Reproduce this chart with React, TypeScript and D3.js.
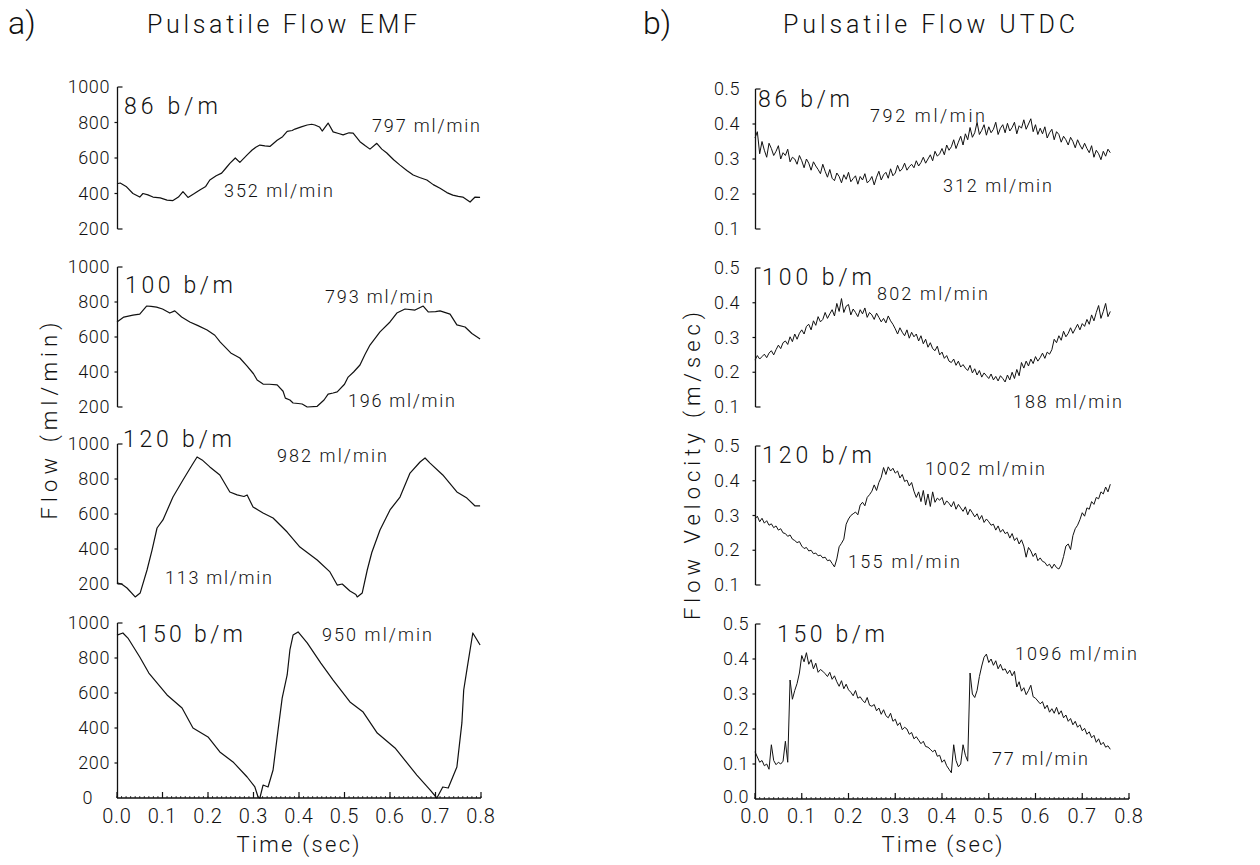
import React from "react";
import * as d3 from "d3";

type Pt = [number, number];

// ---------- tick values ----------
const TIME_TICKS = [0, 0.1, 0.2, 0.3, 0.4, 0.5, 0.6, 0.7, 0.8];
const EMF_TICKS = [200, 400, 600, 800, 1000];
const EMF_TICKS_BOTTOM = [0, 200, 400, 600, 800, 1000];
const VEL_TICKS = [0.1, 0.2, 0.3, 0.4, 0.5];
const VEL_TICKS_BOTTOM = [0, 0.1, 0.2, 0.3, 0.4, 0.5];

// ---------- EMF flow (ml/min) vs time (s) ----------
const EMF_86: Pt[] = [[0,455],[0.007,459],[0.02,440],[0.035,400],[0.05,380],[0.057,400],[0.068,392],[0.079,380],[0.095,375],[0.11,363],[0.123,360],[0.135,380],[0.145,410],[0.156,378],[0.17,400],[0.182,420],[0.195,440],[0.204,476],[0.218,500],[0.23,515],[0.24,545],[0.248,570],[0.26,600],[0.27,575],[0.285,615],[0.297,645],[0.305,660],[0.314,673],[0.325,668],[0.336,665],[0.352,700],[0.364,720],[0.374,750],[0.385,755],[0.391,763],[0.405,775],[0.418,786],[0.428,790],[0.435,786],[0.445,775],[0.451,752],[0.464,797],[0.475,747],[0.487,738],[0.497,730],[0.51,742],[0.519,740],[0.534,692],[0.545,670],[0.556,650],[0.571,683],[0.582,650],[0.593,628],[0.608,590],[0.622,560],[0.637,530],[0.651,504],[0.665,490],[0.681,476],[0.695,450],[0.71,430],[0.725,405],[0.738,391],[0.75,384],[0.76,380],[0.776,352],[0.787,380],[0.798,378]];
const EMF_100: Pt[] = [[0,686],[0.015,714],[0.035,725],[0.05,731],[0.065,777],[0.075,775],[0.087,771],[0.1,760],[0.116,737],[0.127,749],[0.142,714],[0.16,686],[0.178,665],[0.198,640],[0.215,610],[0.227,571],[0.25,509],[0.27,480],[0.286,434],[0.3,390],[0.308,354],[0.321,331],[0.335,330],[0.352,326],[0.365,290],[0.37,251],[0.38,240],[0.387,223],[0.398,220],[0.407,217],[0.418,200],[0.44,204],[0.455,240],[0.464,274],[0.475,280],[0.484,286],[0.5,330],[0.508,371],[0.52,400],[0.534,440],[0.545,500],[0.556,554],[0.578,629],[0.6,686],[0.615,737],[0.633,760],[0.655,754],[0.673,777],[0.684,743],[0.7,745],[0.71,749],[0.732,731],[0.747,669],[0.765,657],[0.78,620],[0.798,589]];
const EMF_120: Pt[] = [[0,206],[0.01,200],[0.022,177],[0.04,126],[0.051,149],[0.066,280],[0.077,394],[0.088,520],[0.101,566],[0.123,697],[0.145,794],[0.165,880],[0.176,926],[0.187,909],[0.204,869],[0.226,823],[0.248,726],[0.264,709],[0.279,700],[0.286,709],[0.299,640],[0.321,606],[0.343,577],[0.374,497],[0.402,411],[0.44,337],[0.468,269],[0.484,194],[0.495,200],[0.512,160],[0.525,140],[0.528,126],[0.539,149],[0.55,280],[0.56,380],[0.578,509],[0.6,623],[0.622,697],[0.644,834],[0.666,897],[0.677,920],[0.688,891],[0.716,823],[0.747,726],[0.769,691],[0.787,646],[0.798,646]];
const EMF_150: Pt[] = [[0,931],[0.013,943],[0.024,914],[0.05,806],[0.07,714],[0.11,589],[0.143,514],[0.167,400],[0.2,349],[0.226,263],[0.255,206],[0.286,120],[0.303,63],[0.31,6],[0.314,0],[0.321,74],[0.332,63],[0.343,160],[0.354,389],[0.363,571],[0.374,703],[0.38,846],[0.387,931],[0.398,949],[0.418,886],[0.448,771],[0.475,674],[0.512,549],[0.541,491],[0.572,371],[0.611,286],[0.659,131],[0.688,46],[0.703,0],[0.716,63],[0.728,57],[0.747,177],[0.758,429],[0.762,617],[0.77,749],[0.782,943],[0.798,874]];

// ---------- UTDC flow velocity (m/s), sampled every 0.005 s ----------
const UTDC_DT = 0.005;
const UTDC_86 = [
0.36,0.378,0.315,0.35,0.325,0.305,0.345,0.33,0.31,0.322,
0.338,0.3,0.318,0.31,0.328,0.292,0.305,0.3,0.285,0.31,
0.295,0.275,0.3,0.288,0.268,0.292,0.28,0.27,0.258,0.285,
0.265,0.248,0.27,0.245,0.238,0.26,0.25,0.232,0.255,0.242,
0.262,0.235,0.244,0.252,0.228,0.25,0.24,0.258,0.232,0.238,
0.25,0.226,0.248,0.265,0.24,0.255,0.262,0.245,0.272,0.252,
0.26,0.282,0.265,0.272,0.288,0.268,0.278,0.285,0.275,0.295,
0.28,0.29,0.305,0.288,0.3,0.312,0.295,0.322,0.308,0.315,
0.33,0.312,0.34,0.325,0.335,0.355,0.33,0.348,0.365,0.34,
0.372,0.355,0.39,0.362,0.375,0.405,0.37,0.382,0.398,0.368,
0.392,0.375,0.385,0.405,0.37,0.388,0.398,0.375,0.402,0.38,
0.39,0.405,0.372,0.395,0.388,0.412,0.385,0.4,0.415,0.378,
0.398,0.37,0.388,0.372,0.392,0.36,0.375,0.385,0.355,0.378,
0.37,0.348,0.365,0.355,0.34,0.362,0.35,0.332,0.355,0.34,
0.328,0.345,0.33,0.318,0.338,0.305,0.325,0.315,0.298,0.322,
0.308,0.328,0.318];
const UTDC_100 = [
0.235,0.248,0.238,0.245,0.252,0.242,0.255,0.262,0.25,0.265,
0.278,0.268,0.285,0.29,0.28,0.302,0.288,0.31,0.295,0.312,
0.322,0.31,0.332,0.338,0.322,0.348,0.335,0.36,0.345,0.352,
0.372,0.355,0.368,0.38,0.362,0.398,0.375,0.412,0.372,0.39,
0.395,0.365,0.382,0.372,0.36,0.38,0.368,0.385,0.358,0.372,
0.365,0.352,0.37,0.358,0.345,0.355,0.342,0.362,0.348,0.338,
0.325,0.31,0.328,0.315,0.305,0.322,0.298,0.315,0.302,0.31,
0.29,0.305,0.282,0.295,0.272,0.285,0.268,0.262,0.275,0.25,
0.258,0.24,0.248,0.232,0.228,0.238,0.22,0.232,0.215,0.222,
0.212,0.205,0.22,0.198,0.21,0.192,0.205,0.186,0.198,0.19,
0.182,0.195,0.178,0.188,0.175,0.19,0.182,0.172,0.192,0.178,
0.2,0.182,0.208,0.19,0.228,0.212,0.232,0.218,0.238,0.225,
0.245,0.232,0.242,0.255,0.24,0.258,0.252,0.265,0.295,0.285,
0.305,0.292,0.318,0.302,0.312,0.328,0.312,0.325,0.338,0.322,
0.34,0.332,0.352,0.338,0.365,0.348,0.372,0.392,0.355,0.375,
0.398,0.36,0.375];
const UTDC_120 = [
0.29,0.298,0.282,0.292,0.278,0.285,0.272,0.276,0.265,0.27,
0.258,0.262,0.25,0.248,0.24,0.244,0.232,0.228,0.222,0.225,
0.212,0.205,0.208,0.198,0.2,0.19,0.192,0.184,0.186,0.178,
0.18,0.17,0.172,0.162,0.152,0.175,0.21,0.22,0.232,0.275,
0.29,0.3,0.305,0.31,0.302,0.33,0.338,0.328,0.352,0.36,
0.37,0.388,0.372,0.395,0.41,0.438,0.418,0.44,0.428,0.436,
0.422,0.428,0.408,0.418,0.398,0.402,0.385,0.395,0.37,0.352,
0.368,0.34,0.372,0.33,0.362,0.326,0.368,0.338,0.35,0.344,
0.352,0.33,0.342,0.335,0.325,0.34,0.318,0.332,0.322,0.312,
0.325,0.302,0.318,0.308,0.296,0.305,0.288,0.3,0.28,0.29,
0.282,0.272,0.275,0.258,0.27,0.252,0.26,0.248,0.252,0.235,
0.248,0.228,0.236,0.218,0.23,0.212,0.18,0.208,0.198,0.182,
0.192,0.17,0.178,0.168,0.165,0.155,0.16,0.148,0.16,0.15,
0.146,0.158,0.182,0.212,0.218,0.202,0.242,0.262,0.272,0.288,
0.308,0.298,0.322,0.318,0.34,0.332,0.352,0.348,0.368,0.362,
0.382,0.368,0.39];
const UTDC_150 = [
0.135,0.12,0.105,0.11,0.095,0.1,0.085,0.155,0.11,0.098,
0.105,0.1,0.108,0.165,0.105,0.34,0.285,0.31,0.33,0.36,
0.41,0.392,0.418,0.385,0.398,0.372,0.388,0.362,0.37,0.365,
0.358,0.35,0.362,0.342,0.352,0.335,0.322,0.338,0.315,0.328,
0.312,0.305,0.295,0.31,0.288,0.292,0.282,0.275,0.29,0.268,
0.265,0.27,0.252,0.26,0.242,0.255,0.238,0.232,0.245,0.222,
0.228,0.21,0.218,0.198,0.205,0.2,0.185,0.19,0.172,0.178,
0.168,0.158,0.165,0.15,0.148,0.142,0.135,0.14,0.122,0.125,
0.105,0.112,0.095,0.085,0.075,0.155,0.11,0.092,0.1,0.155,
0.125,0.108,0.36,0.3,0.29,0.31,0.35,0.38,0.405,0.414,
0.39,0.4,0.382,0.395,0.372,0.385,0.368,0.372,0.358,0.368,
0.352,0.365,0.32,0.335,0.308,0.318,0.298,0.31,0.325,0.292,
0.288,0.28,0.272,0.278,0.258,0.268,0.248,0.258,0.245,0.262,
0.242,0.252,0.232,0.24,0.222,0.23,0.212,0.222,0.205,0.212,
0.195,0.202,0.185,0.192,0.175,0.182,0.162,0.172,0.155,0.162,
0.148,0.152,0.142];

const toPts = (vals: number[]): Pt[] => vals.map((v, i) => [i * UTDC_DT, v]);

// ---------- layout ----------
const FONT = "Roboto, 'Liberation Sans', sans-serif";
const FW = 300;
const INK = "#111";

type Label = { text: string; x: number; y: number; w: number; size: number };
type Panel = {
  data: Pt[];
  domain: [number, number];
  range: [number, number];
  ticks: number[];
  bottom: boolean;
  labels: Label[];
};

const LEFT_X: [number, number] = [117, 481];
const RIGHT_X: [number, number] = [755, 1129];

const leftPanels: Panel[] = [
  { data: EMF_86, domain: [200, 1000], range: [229, 87], ticks: EMF_TICKS, bottom: false,
    labels: [
      { text: "86 b/m", x: 124, y: 114, w: 94, size: 23 },
      { text: "797 ml/min", x: 372, y: 132, w: 108, size: 18 },
      { text: "352 ml/min", x: 224, y: 197, w: 109, size: 18 },
    ] },
  { data: EMF_100, domain: [200, 1000], range: [407, 267], ticks: EMF_TICKS, bottom: false,
    labels: [
      { text: "100 b/m", x: 125, y: 293, w: 108, size: 23 },
      { text: "793 ml/min", x: 325, y: 303, w: 108, size: 18 },
      { text: "196 ml/min", x: 348, y: 407, w: 107, size: 18 },
    ] },
  { data: EMF_120, domain: [200, 1000], range: [584, 444], ticks: EMF_TICKS, bottom: false,
    labels: [
      { text: "120 b/m", x: 123, y: 447, w: 109, size: 23 },
      { text: "982 ml/min", x: 277, y: 462, w: 110, size: 18 },
      { text: "113 ml/min", x: 165, y: 584, w: 107, size: 18 },
    ] },
  { data: EMF_150, domain: [0, 1000], range: [798, 623], ticks: EMF_TICKS_BOTTOM, bottom: true,
    labels: [
      { text: "150 b/m", x: 137, y: 642, w: 106, size: 23 },
      { text: "950 ml/min", x: 322, y: 641, w: 110, size: 18 },
    ] },
];

const rightPanels: Panel[] = [
  { data: toPts(UTDC_86), domain: [0.1, 0.5], range: [229, 89], ticks: VEL_TICKS, bottom: false,
    labels: [
      { text: "86 b/m", x: 758, y: 107, w: 92, size: 23 },
      { text: "792 ml/min", x: 870, y: 122, w: 115, size: 18 },
      { text: "312 ml/min", x: 943, y: 192, w: 109, size: 18 },
    ] },
  { data: toPts(UTDC_100), domain: [0.1, 0.5], range: [407, 268], ticks: VEL_TICKS, bottom: false,
    labels: [
      { text: "100 b/m", x: 762, y: 285, w: 110, size: 23 },
      { text: "802 ml/min", x: 877, y: 300, w: 111, size: 18 },
      { text: "188 ml/min", x: 1013, y: 408, w: 109, size: 18 },
    ] },
  { data: toPts(UTDC_120), domain: [0.1, 0.5], range: [585, 446], ticks: VEL_TICKS, bottom: false,
    labels: [
      { text: "120 b/m", x: 762, y: 463, w: 110, size: 23 },
      { text: "1002 ml/min", x: 925, y: 475, w: 120, size: 18 },
      { text: "155 ml/min", x: 848, y: 568, w: 112, size: 18 },
    ] },
  { data: toPts(UTDC_150), domain: [0, 0.5], range: [799, 624], ticks: VEL_TICKS_BOTTOM, bottom: true,
    labels: [
      { text: "150 b/m", x: 777, y: 642, w: 108, size: 23 },
      { text: "1096 ml/min", x: 1015, y: 660, w: 122, size: 18 },
      { text: "77 ml/min", x: 992, y: 765, w: 96, size: 18 },
    ] },
];

function T({ x, y, w, size, children, anchor, rotate }: any) {
  return (
    <text
      x={x}
      y={y}
      fontSize={size}
      fontFamily={FONT}
      fontWeight={FW}
      fill={INK}
      textAnchor={anchor || "start"}
      textLength={w}
      lengthAdjust={w ? "spacing" : undefined}
      transform={rotate ? `rotate(-90 ${x} ${y})` : undefined}
    >
      {children}
    </text>
  );
}

function PanelView({ p, xr, fmt, labelRight, side, lw }: { p: Panel; xr: [number, number]; fmt: (v: number) => string; labelRight: number; side: "L" | "R"; lw: number }) {
  const x = d3.scaleLinear().domain([0, 0.8]).range(xr);
  const y = d3.scaleLinear().domain(p.domain).range(p.range);
  const line = d3.line<Pt>().x((d) => x(d[0])).y((d) => y(d[1]));
  const ax = xr[0] + 0.5;
  const yTop = y(p.domain[1]);
  const yBot = y(p.domain[0]);
  const minor = d3.range(0, 0.8001, 0.01);
  return (
    <g>
      <line x1={ax} x2={ax} y1={yTop} y2={yBot} stroke={INK} strokeWidth={1.3} />
      <line x1={ax} x2={ax + 5} y1={yTop} y2={yTop} stroke={INK} strokeWidth={1.2} />
      {!p.bottom && <line x1={ax} x2={ax + 5} y1={yBot} y2={yBot} stroke={INK} strokeWidth={1.2} />}
      {p.ticks.map((t) => {
        const yy = y(t);
        const isEnd = t === p.domain[0] || t === p.domain[1];
        const zero = p.bottom && t === 0;
        const lx = zero && side === "L" ? labelRight - 17 : labelRight;
        const ly = zero ? yy + (side === "L" ? 6 : 4) : yy + 6;
        return (
          <g key={t}>
            {!isEnd && <line x1={ax - 3} x2={ax} y1={yy} y2={yy} stroke={INK} strokeWidth={1.2} />}
            <text x={lx} y={ly} fontSize={18} fontFamily={FONT} fontWeight={FW} fill={INK} textAnchor="end" letterSpacing={0.6}>
              {fmt(t)}
            </text>
          </g>
        );
      })}
      {p.bottom && (
        <g>
          <line x1={xr[0]} x2={xr[1]} y1={yBot} y2={yBot} stroke={INK} strokeWidth={1.6} />
          {minor.map((m, i) => (
            <line key={"m" + i} x1={x(m)} x2={x(m)} y1={yBot} y2={yBot - 2} stroke={INK} strokeWidth={0.8} />
          ))}
          {TIME_TICKS.map((t) => (
            <g key={"t" + t}>
              <line x1={x(t)} x2={x(t)} y1={yBot} y2={yBot - 6} stroke={INK} strokeWidth={1.2} />
              <text x={x(t)} y={823} fontSize={20} fontFamily={FONT} fontWeight={FW} fill={INK} textAnchor="middle" letterSpacing={0.8}>
                {t.toFixed(1)}
              </text>
            </g>
          ))}
        </g>
      )}
      <path d={line(p.data) || ""} fill="none" stroke={INK} strokeWidth={lw} strokeLinejoin="round" />
      {p.labels.map((l, i) => (
        <T key={i} x={l.x} y={l.y} w={l.w} size={l.size}>
          {l.text}
        </T>
      ))}
    </g>
  );
}

export default function App() {
  return (
    <svg width={1260} height={865} style={{ position: "absolute", left: 0, top: 0, background: "#fff" }}>
      <rect x={0} y={0} width={1260} height={865} fill="#fff" />
      <T x={8} y={34} size={32}>a)</T>
      <T x={643} y={34} size={32}>b)</T>
      <T x={147} y={33} size={25} w={270}>Pulsatile Flow EMF</T>
      <T x={783} y={33} size={25} w={292}>Pulsatile Flow UTDC</T>

      {leftPanels.map((p, i) => (
        <PanelView key={"l" + i} p={p} xr={LEFT_X} fmt={(v) => String(v)} labelRight={110} side="L" lw={1.2} />
      ))}
      {rightPanels.map((p, i) => (
        <PanelView key={"r" + i} p={p} xr={RIGHT_X} fmt={(v) => v.toFixed(1)} labelRight={p.bottom ? 749 : 740} side="R" lw={1.0} />
      ))}

      <T x={57} y={421} size={22} w={197} anchor="middle" rotate>Flow (ml/min)</T>
      <T x={700} y={466} size={22} w={308} anchor="middle" rotate>Flow Velocity (m/sec)</T>
      <T x={298} y={852} size={22} w={123} anchor="middle">Time (sec)</T>
      <T x={942} y={852} size={22} w={121} anchor="middle">Time (sec)</T>
    </svg>
  );
}
